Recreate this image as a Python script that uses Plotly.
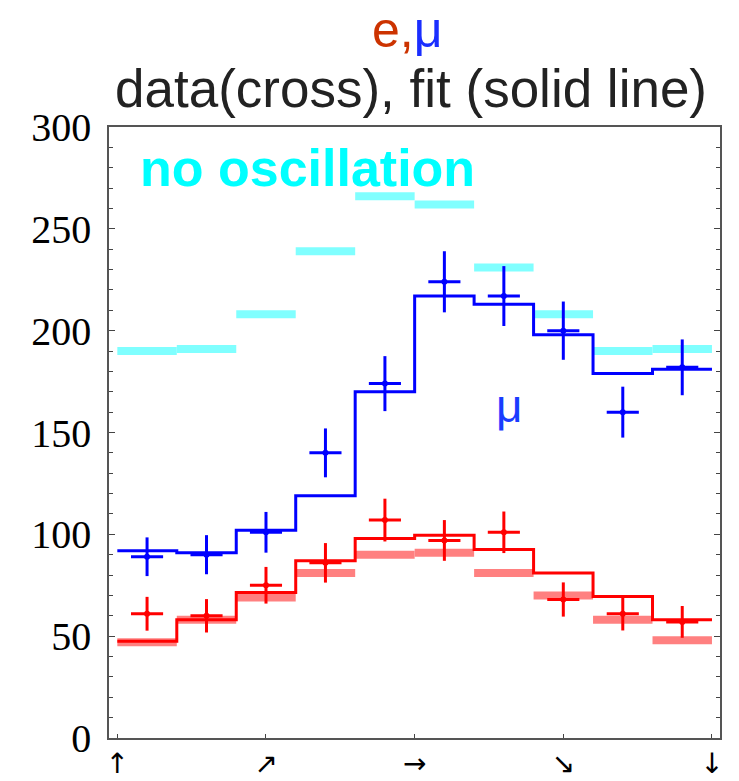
import plotly.graph_objects as go

# ---- data ----
bin_edges = [-1.0, -0.8, -0.6, -0.4, -0.2, 0.0, 0.2, 0.4, 0.6, 0.8, 1.0]
bin_centers = [-0.9, -0.7, -0.5, -0.3, -0.1, 0.1, 0.3, 0.5, 0.7, 0.9]

mu_noosc = [190, 191, 208, 239, 266, 262, 231, 208, 190, 191]
mu_fit = [92, 91, 102, 119, 170, 217, 213, 198, 179, 181]
mu_data = [89, 90, 101, 140, 174, 224, 217, 200, 160, 182]
mu_err = [9.5, 9.6, 10, 12, 13.5, 15, 14.7, 14.3, 12.5, 13.7]

e_noosc = [47, 58, 69, 81, 90, 91, 81, 70, 58, 48]
e_fit = [47.5, 58, 71.5, 87, 98, 99.5, 92.5, 81, 69.5, 58]
e_data = [61, 60, 75, 86, 107, 97, 101, 68, 61, 57]
e_err = [8.3, 8.2, 9, 9.7, 10.5, 10, 10.2, 8.4, 8.2, 7.8]

x_tickvals = [-1.0, -0.5, 0.0, 0.5, 1.0]
x_ticktext = ["\u2191", "\u2197", "\u2192", "\u2198", "\u2193"]


def segments(edges, vals):
    xs, ys = [], []
    for i, v in enumerate(vals):
        xs += [edges[i], edges[i + 1], None]
        ys += [v, v, None]
    return xs, ys


fig = go.Figure()

# no-oscillation expectation bars
cx, cy = segments(bin_edges, mu_noosc)
fig.add_trace(go.Scatter(x=cx, y=cy, mode="lines", line=dict(color="#80ffff", width=8),
                         showlegend=False, hoverinfo="skip"))
px_, py_ = segments(bin_edges, e_noosc)
fig.add_trace(go.Scatter(x=px_, y=py_, mode="lines", line=dict(color="#ff8080", width=8),
                         showlegend=False, hoverinfo="skip"))

# fits (step lines)
fig.add_trace(go.Scatter(x=bin_edges, y=mu_fit + mu_fit[-1:], mode="lines", line_shape="hv",
                         line=dict(color="#0000ff", width=3), showlegend=False))
fig.add_trace(go.Scatter(x=bin_edges, y=e_fit + e_fit[-1:], mode="lines", line_shape="hv",
                         line=dict(color="#ff0000", width=3), showlegend=False))

# data crosses
for vals, errs, col in [(mu_data, mu_err, "#0000ff"), (e_data, e_err, "#ff0000")]:
    fig.add_trace(go.Scatter(
        x=bin_centers, y=vals, mode="markers",
        marker=dict(size=0, color=col),
        error_y=dict(type="data", array=errs, visible=True, color=col, thickness=3, width=0),
        error_x=dict(type="constant", value=0.054, visible=True, color=col, thickness=3, width=0),
        showlegend=False))

fig.add_annotation(x=-0.36, y=280, xref="x", yref="y", text="<b>no oscillation</b>",
                   showarrow=False, font=dict(family="Liberation Sans, Arial", size=52, color="#00ffff"),
                   xanchor="center", yanchor="middle")
fig.add_annotation(x=0.318, y=163, xref="x", yref="y", text="\u03bc",
                   showarrow=False, font=dict(family="Liberation Sans, Arial", size=46, color="#1a3cff"),
                   xanchor="center", yanchor="middle")

fig.add_annotation(x=0.4945, y=1.063, xref="paper", yref="paper",
                   text="data(cross), fit (solid line)", showarrow=False,
                   font=dict(family="Liberation Sans, Arial", size=53, color="#222222"),
                   xanchor="center", yanchor="middle")
fig.add_annotation(x=0.488, y=1.158, xref="paper", yref="paper",
                   text="<span style='color:#cc3300'>e,</span><span style='color:#1a2eff'>\u03bc</span>",
                   showarrow=False,
                   font=dict(family="Liberation Sans, Arial", size=50, color="#cc3300"),
                   xanchor="center", yanchor="middle")

fig.update_layout(
    width=739, height=781,
    margin=dict(l=109, r=19, t=127, b=43, autoexpand=False),
    paper_bgcolor="white", plot_bgcolor="white",
    xaxis=dict(range=[-1.028, 1.027], tickvals=x_tickvals, ticktext=x_ticktext,
               ticks="inside", ticklen=4, tickwidth=1, tickcolor="#444",
               showline=True, linecolor="#555", linewidth=1.5, mirror=True,
               showgrid=False, zeroline=False, ticklabelstandoff=0, automargin=False,
               tickfont=dict(family="DejaVu Sans", size=28, color="black")),
    yaxis=dict(range=[0, 300], tickvals=[0, 50, 100, 150, 200, 250, 300],
               ticks="inside", ticklen=6, tickwidth=1, tickcolor="#444",
               minor=dict(dtick=10, ticks="inside", ticklen=4, tickcolor="#444", showgrid=False),
               showline=True, linecolor="#555", linewidth=1.5, mirror="ticks",
               showgrid=False, zeroline=False, ticklabelstandoff=8, automargin=False,
               tickfont=dict(family="Liberation Serif, Times New Roman", size=40, color="black")),
)

fig.write_html("out.html")
